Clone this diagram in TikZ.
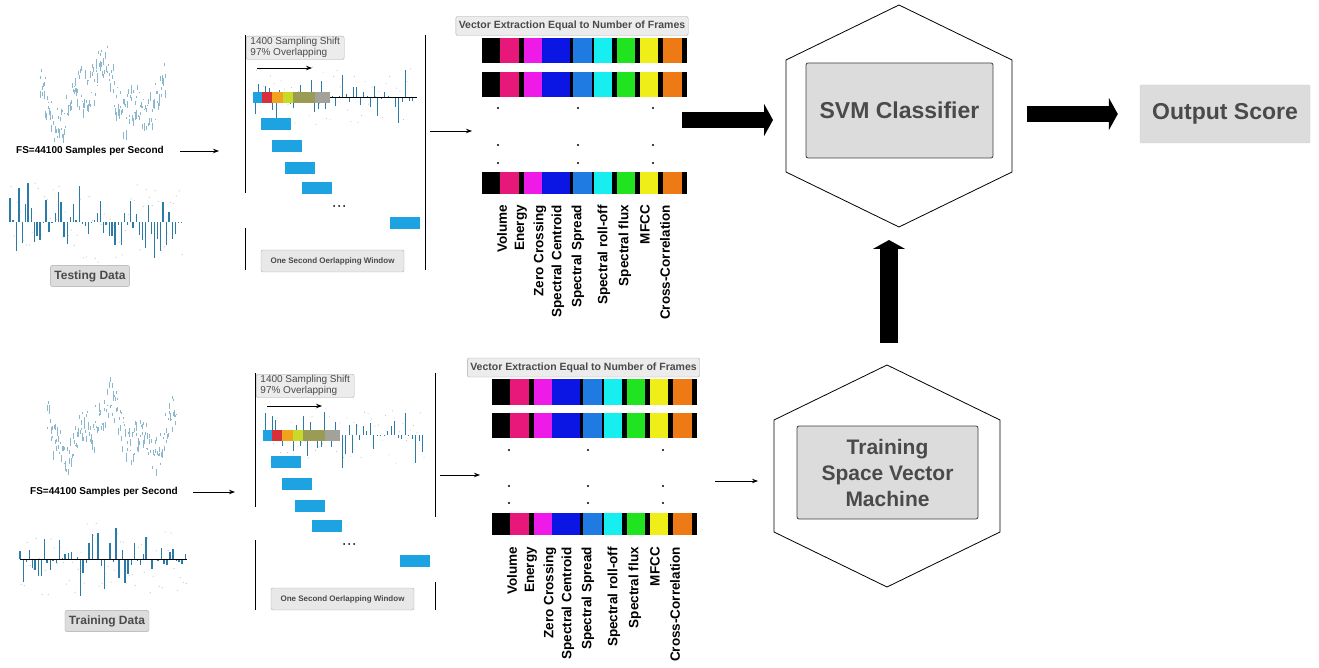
\documentclass[tikz,border=0pt]{standalone}
\usepackage{fontspec}
\setmainfont{Liberation Sans}
\usetikzlibrary{arrows.meta}

\definecolor{wavelight}{HTML}{8CB8CB}
\definecolor{wavedark}{HTML}{2C7BA6}
\definecolor{winblue}{HTML}{1DA2E2}
\definecolor{sred}{HTML}{D8303A}
\definecolor{sorange}{HTML}{F0A41E}
\definecolor{slime}{HTML}{C8DA28}
\definecolor{solive}{HTML}{9A9C56}
\definecolor{sgrey}{HTML}{A2A29A}
\definecolor{fpink}{HTML}{E8177A}
\definecolor{fmagenta}{HTML}{EE1BE8}
\definecolor{fblue}{HTML}{0B16E4}
\definecolor{fazure}{HTML}{1F7BE2}
\definecolor{fcyan}{HTML}{17EEF0}
\definecolor{fgreen}{HTML}{20E420}
\definecolor{fyellow}{HTML}{F0EE18}
\definecolor{forange}{HTML}{EE7A16}
\definecolor{boxgrey}{HTML}{DCDCDC}
\definecolor{textgrey}{HTML}{4A4A4A}

\tikzset{
  flow/.style={-{Stealth[length=6pt,width=4.5pt]},line width=0.8pt},
  bigarrow/.style={line width=16pt,-{Triangle[length=9pt,width=32pt]}},
  frame/.style={line width=0.8pt},
  hexline/.style={line width=0.8pt},
  cloudtick/.style={wavelight,line width=0.6pt},
  wavebar/.style={wavedark},
  speck/.style={gray!55},
  databox/.style={draw=gray!65,fill=boxgrey,rounded corners=2pt,inner xsep=4pt,inner ysep=5pt,
    font=\fontsize{12}{14}\selectfont\bfseries,text=textgrey},
  shiftbox/.style={draw=gray!65,fill=gray!15,rounded corners=2pt,inner sep=1.5pt,align=left,
    minimum width=98pt,minimum height=23pt,font=\fontsize{10}{11}\selectfont,text=textgrey},
  winbox/.style={draw=gray!65,fill=gray!18,rounded corners=2pt,minimum width=143pt,minimum height=22pt,
    font=\fontsize{8}{9}\selectfont\bfseries,text=textgrey},
  titlebox/.style={draw=gray!65,fill=gray!15,rounded corners=2pt,minimum height=19pt,inner xsep=3pt,
    font=\fontsize{10.5}{12}\selectfont\bfseries,text=textgrey},
  featbar/.style={fill=black,minimum width=205pt,inner sep=0pt},
  featlbl/.style={rotate=90,anchor=east,inner sep=0pt,font=\fontsize{13.5}{14}\selectfont\bfseries},
  fslbl/.style={font=\fontsize{10}{12}\selectfont\bfseries},
  svmbox/.style={draw=black!75,fill=boxgrey,rounded corners=2pt,line width=0.8pt,align=center,
    font=\fontsize{23}{26}\selectfont\bfseries,text=textgrey},
  scorebox/.style={draw=gray!35,fill=boxgrey,rounded corners=1pt,minimum width=170pt,minimum height=58pt,
    font=\fontsize{23}{26}\selectfont\bfseries,text=textgrey},
}

% scattered upper trace: left x, right x, middle y, swing, seed
\newcommand{\cloudwave}[5]{%
  \pgfmathsetseed{#5}
  \pgfmathtruncatemacro{\nt}{(#2-#1)/1.3}
  \foreach \i in {0,...,\nt}{
    \pgfmathsetmacro{\xx}{#1+\i*1.3}
    \pgfmathsetmacro{\yc}{#3+#4*sin(\i*6)-0.6*#4*sin(\i*15+60)}
    \pgfmathsetmacro{\tlen}{2+8*rnd}
    \draw[cloudtick] (\xx,\yc+22*rand) -- ++(0,\tlen);
    \pgfmathsetmacro{\tlen}{1+4*rnd}
    \draw[cloudtick,wavedark!55] (\xx+0.5,\yc+15*rand) -- ++(0,\tlen);
  }}

% stem trace around a baseline: left x, right x, baseline y, amplitude, seed
\newcommand{\barwave}[5]{%
  \pgfmathsetseed{#5}
  \pgfmathtruncatemacro{\nt}{(#2-#1)/3}
  \foreach \i in {0,...,\nt}{
    \pgfmathsetmacro{\xx}{#1+\i*3}
    \pgfmathsetmacro{\hh}{#4*rand*(0.25+0.75*rnd)}
    \pgfmathsetmacro{\lw}{0.4+0.9*rnd}
    \draw[wavebar,line width=\lw pt] (\xx,#3) -- ++(0,\hh);
    \fill[speck] (\xx+1.2,#3+0.9*#4*rand) circle (0.55);
  }}

% framing panel: prefix, left x, top y, seed
\newcommand{\winpanel}[4]{%
  \begin{scope}[shift={(#2,#3)}]
    \pgfmathsetseed{#4}
    \foreach \i in {0,...,45}{
      \pgfmathsetmacro{\xx}{10+\i*3.5}
      \pgfmathsetmacro{\hh}{38*rand*(0.2+0.8*rnd)}
      \draw[wavebar,line width=0.8pt] (\xx,62) -- ++(0,\hh);
      \fill[speck] (\xx+1.5,62+30*rand) circle (0.5);
    }
    \foreach \sa/\sb/\col in {8/17/winblue,17/27/sred,27/38/sorange,38/48/slime,48/70/solive,70/85/sgrey}
      \fill[\col] (\sa,57) rectangle (\sb,68);
    \node[shiftbox,anchor=north west] (#1shift) at (1,1) {1400 Sampling Shift\\97\% Overlapping};
    \draw[flow] (12,33) -- (67,33);
    \foreach \sa/\sb in {16/83,27/105,40/127,57/147,145/182}
      \fill[winblue] (\sa,\sb) rectangle ++(30,12);
    \foreach \d in {0,5,10} \fill (89+\d,171) circle (1);
    \node[winbox] (#1win) at (87.5,226) {One Second Oerlapping Window};
  \end{scope}}

% one feature vector: name, left x, top y, height
\newcommand{\featrow}[4]{%
  \node[featbar,minimum height=#4pt,anchor=north west] (#1) at (#2,#3) {};
  \foreach \sa/\sb/\col in {18/37/fpink,42/60/fmagenta,60/88/fblue,91/110/fazure,
      112/130/fcyan,135/153/fgreen,158/176/fyellow,181/200/forange}
    \fill[\col] (#2+\sa,#3) rectangle (#2+\sb,#3+#4);
}

% feature names under the vectors: prefix, left x, top y
\newcommand{\featlabels}[3]{%
  \foreach \dx/\txt [count=\k] in {20/Volume,39/Energy,58/Zero Crossing,76/Spectral Centroid,
      96/Spectral Spread,122/Spectral roll-off,143/Spectral flux,163/MFCC,183/Cross-Correlation}
    \node[featlbl] (#1\k) at (#2+\dx,#3) {\txt};
}

% stretched hexagon round a classifier: centre x, centre y
\newcommand{\hexframe}[2]{%
  \draw[hexline] (#1,#2-111) -- (#1+113,#2-56) -- (#1+113,#2+56) -- (#1,#2+111)
    -- (#1-113,#2+56) -- (#1-113,#2-56) -- cycle;}

\begin{document}
\begin{tikzpicture}[x=1pt,y=-1pt]
  \useasboundingbox (0,0) rectangle (1319,668);

  % ---- testing branch ----
  \cloudwave{40}{165}{92}{20}{11}
  \node[fslbl] (tfs) at (90,151) {FS=44100 Samples per Second};
  \barwave{10}{182}{222}{45}{23}
  \node[databox] (tdata) at (90,276) {Testing Data};
  \coordinate (tin) at (219,151);
  \draw[flow] (tfs.east) ++(13,0) -- (tin);

  \draw[frame] (245,35) -- (245,193) (245,228) -- (245,270);
  \draw[frame] (425,35) -- (425,270);
  \winpanel{tp}{245}{35}{5}
  \draw[line width=0.6pt] (330,97) -- (417,97);
  \coordinate (tpout) at (430,131);
  \coordinate (tvin) at (472,131);
  \draw[flow] (tpout) -- (tvin);

  \node[titlebox] (tvtitle) at (572,26) {Vector Extraction Equal to Number of Frames};
  \featrow{tv1}{482}{38}{25}
  \featrow{tv2}{482}{72}{25}
  \featrow{tv3}{482}{172}{22}
  \foreach \dx in {16,96,171} \foreach \yy in {108,145,163} \fill (482+\dx,\yy) circle (1.1);
  \featlabels{tl}{482}{205}

  % ---- classifier and score ----
  \hexframe{899}{116}
  \node[svmbox,minimum width=187pt,minimum height=95pt] (svm) at (899.5,110.5) {SVM Classifier};
  \node[scorebox] (score) at (1225,114) {Output Score};
  \coordinate (tvout) at (682,120);
  \coordinate (svmin) at (773,120);
  \draw[bigarrow] (tvout) -- (svmin);
  \coordinate (svmout) at (1027,114);
  \draw[bigarrow,shorten >=22pt] (svmout) -- (score.west);

  % ---- training branch ----
  \cloudwave{47}{177}{428}{20}{31}
  \node[fslbl] (bfs) at (104,492) {FS=44100 Samples per Second};
  \barwave{20}{187}{559}{40}{41}
  \draw[line width=0.7pt] (20,559) -- (187,559);
  \node[databox] (bdata) at (107,621) {Training Data};
  \coordinate (bin) at (235,492);
  \draw[flow] (bfs.east) ++(12,0) -- (bin);

  \draw[frame] (255,373) -- (255,507) (255,540) -- (255,610);
  \draw[frame] (435,373) -- (435,517) (435,582) -- (435,610);
  \winpanel{bp}{255}{373}{9}
  \coordinate (bpout) at (440,475);
  \coordinate (bvin) at (480,475);
  \draw[flow] (bpout) -- (bvin);

  \node[titlebox] (bvtitle) at (583.5,367.5) {Vector Extraction Equal to Number of Frames};
  \featrow{bv1}{492}{379}{26}
  \featrow{bv2}{492}{413}{25}
  \featrow{bv3}{492}{513}{22}
  \foreach \dx in {17,96,171} \foreach \yy in {450,486,503} \fill (492+\dx,\yy) circle (1.1);
  \featlabels{bl}{492}{547}

  \hexframe{887}{476}
  \node[svmbox,minimum width=181pt,minimum height=93pt,font=\fontsize{21}{26}\selectfont\bfseries]
    (svmtrain) at (887.5,472.5) {Training\\Space Vector\\Machine};
  \coordinate (bvout) at (715,481);
  \coordinate (trainin) at (758,481);
  \draw[flow] (bvout) -- (trainin);
  \coordinate (trainup) at (889,343);
  \coordinate (svmlow) at (889,240);
  \draw[bigarrow,line width=18pt] (trainup) -- (svmlow);
\end{tikzpicture}
\end{document}
